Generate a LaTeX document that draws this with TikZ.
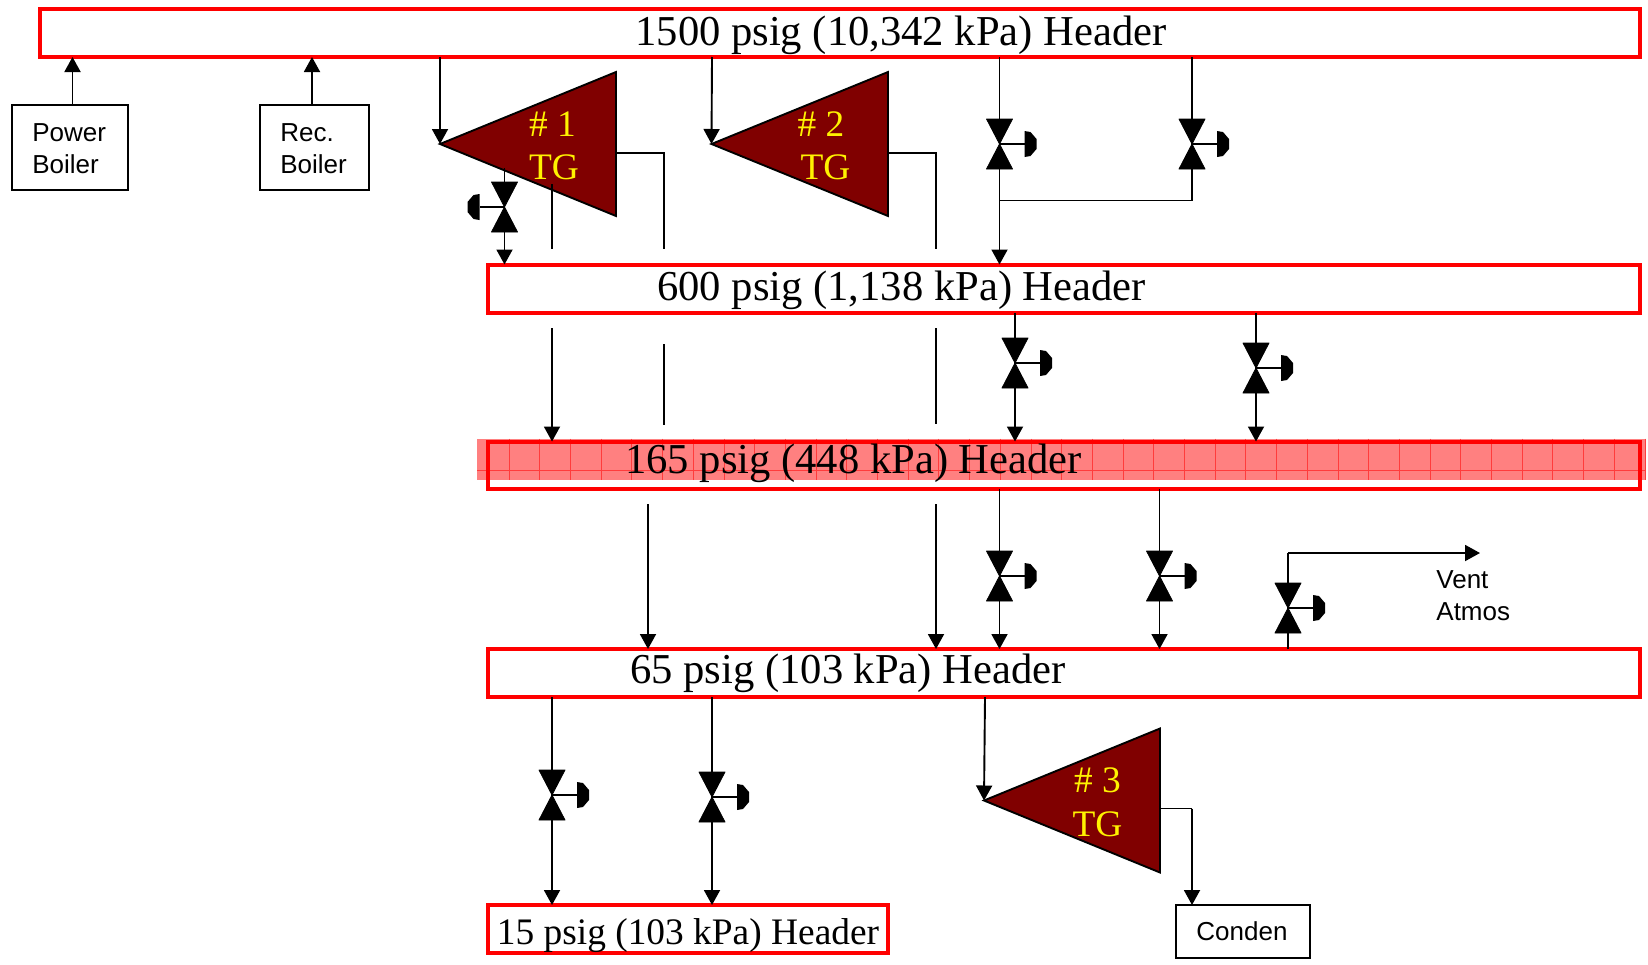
\documentclass[tikz,border=0pt]{standalone}
\usepackage{fontspec}
\setmainfont{Liberation Serif}
\newfontfamily\arialf{Liberation Sans}
\usetikzlibrary{arrows.meta}
\definecolor{tgfill}{RGB}{128,0,0}
\definecolor{pinkband}{RGB}{255,128,128}
\definecolor{pinkgrid}{RGB}{255,60,60}
\tikzset{
  hdr/.style={draw=red,line width=2pt,fill=none,inner sep=0pt,outer sep=0pt},
  plainbox/.style={draw=black,line width=0.7pt,inner sep=0pt,outer sep=0pt},
  pipe/.style={draw=black,line width=0.95pt},
  arr/.style={pipe,-{Triangle[length=7.5pt,width=8pt]}},
  hdrtext/.style={font=\fontsize{21.3}{25}\selectfont,text=black,inner sep=0pt},
  smalltext/.style={font=\arialf\fontsize{13}{16}\selectfont,text=black,inner sep=0pt,anchor=west},
  tgtext/.style={font=\fontsize{18.7}{22}\selectfont,text=yellow,inner sep=0pt},
  turbine/.style={fill=tgfill,draw=black,line width=0.95pt,line join=miter},
}
\newcommand{\valve}[4]{% name, x, y, side (+1 right, -1 left)
  \coordinate (#1) at (#2,#3);
  \begin{scope}[shift={(#1)},xscale=#4]
    \filldraw[black,line width=0.4pt,line join=round] (-13,-25) -- (13,-25) -- (0,0) -- (13,25) -- (-13,25) -- (0,0) -- cycle;
    \draw[pipe] (0,0) -- (25,0);
    \fill[black] (25,-13) -- (31,-12) -- (37,-5) -- (37,5) -- (31,12) -- (25,13) -- cycle;
  \end{scope}
}
\newcommand{\turb}[5]{% name, tip x, tip y, right x, half height
  \coordinate (#1) at (#2,#3);
  \draw[turbine] (#2,#3) -- (#4,#3-#5) -- (#4,#3+#5) -- cycle;
}
\begin{document}
\begin{tikzpicture}[x=0.5pt,y=-0.5pt]
\useasboundingbox (0,0) rectangle (1648,964);
% pink band
\fill[pinkband] (477,438.5) rectangle (1646,480);
\foreach \i in {0,...,37} {\draw[pinkgrid,line width=0.35pt] ({509+30.7*\i},438.5) -- ({509+30.7*\i},480);}
\draw[pinkgrid,line width=0.35pt] (477,470) -- (1646,470);
% headers
\node[hdr,minimum width=800pt,minimum height=24pt] (h1) at (840,33) {};
\node[hdr,minimum width=576pt,minimum height=24pt] (h2) at (1064,288.5) {};
\node[hdr,minimum width=576pt,minimum height=23.5pt] (h3) at (1064,465) {};
\node[hdr,minimum width=576pt,minimum height=24pt] (h4) at (1064,673) {};
\node[hdr,minimum width=200pt,minimum height=24pt] (h5) at (688,929) {};
\node[hdrtext] (th1) at (901,35) {1500 psig (10,342 kPa) Header};
\node[hdrtext] (th2) at (901.5,290) {600 psig (1,138 kPa) Header};
\node[hdrtext] (th3) at (853.5,463) {165 psig (448 kPa) Header};
\node[hdrtext] (th4) at (848,673) {65 psig (103 kPa) Header};
\node[hdrtext,font=\fontsize{18.7}{21}\selectfont] (th5) at (688,936) {15 psig (103 kPa) Header};
% boxes
\node[plainbox,minimum width=58pt,minimum height=42.5pt] (pb) at (70,147.5) {};
\node[plainbox,minimum width=54.5pt,minimum height=42.5pt] (rb) at (314.5,147.5) {};
\node[plainbox,minimum width=67pt,minimum height=26.5pt] (cd) at (1243,931.5) {};
\node[smalltext] (tpb) at (32,132.5) {Power};
\node[smalltext] (tpb2) at (32,164.5) {Boiler};
\node[smalltext] (trb) at (280,132.5) {Rec.};
\node[smalltext] (trb2) at (280,164.5) {Boiler};
\node[smalltext] (tcd) at (1196,931.5) {Conden};
\node[smalltext] (tv) at (1436,580) {Vent};
\node[smalltext] (ta) at (1436,612) {Atmos};
% boiler feeds
\draw[arr] (pb.north -| 72.5,0) -- (h1.south -| 72.5,0);
\draw[arr] (rb.north -| 312,0) -- (h1.south -| 312,0);
% turbines
\turb{t1}{440}{144}{616}{72}
\turb{t2}{711.5}{144}{888}{72}
\turb{t3}{984}{800.5}{1160}{72}
\node[tgtext] (n1) at (552.5,124) {\# 1};
\node[tgtext] (g1) at (554,167.5) {TG};
\node[tgtext] (n2) at (821,124) {\# 2};
\node[tgtext] (g2) at (825.5,167.5) {TG};
\node[tgtext] (n3) at (1097.5,780) {\# 3};
\node[tgtext] (g3) at (1097.5,824) {TG};
% valves
\valve{va}{504.5}{207}{-1}
\valve{vb}{999.5}{144}{1}
\valve{vc}{1192}{144}{1}
\valve{vd}{1015}{363}{1}
\valve{ve}{1256}{368}{1}
\valve{vf}{999.5}{576}{1}
\valve{vg}{1159.5}{576}{1}
\valve{vh}{1288}{608}{1}
\valve{vi}{552}{795}{1}
\valve{vj}{712}{797}{1}
% free ends
\coordinate (a1) at (552,184); \coordinate (a2) at (552,249); \coordinate (a3) at (552,328);
\coordinate (b0) at (616,153); \coordinate (b1) at (664,153); \coordinate (b2) at (664,249);
\coordinate (b3) at (664,344); \coordinate (b4) at (664,425);
\coordinate (b5) at (648,504);
\coordinate (c0) at (888,153); \coordinate (c1) at (936,153); \coordinate (c2) at (936,249);
\coordinate (c3) at (936,328); \coordinate (c4) at (936,424); \coordinate (c5) at (936,504);
\coordinate (vt) at (1288,553); \coordinate (vx) at (1480,553);
\coordinate (vs) at (504.5,168);
\coordinate (t2s) at (712,32); \coordinate (t3s) at (985,673);
\coordinate (t3o) at (1160,808.5); \coordinate (t3c) at (1192,808.5);
% lines
\draw[arr] (h1.south -| t1) -- (t1);
\draw[arr] (h1.south -| t2s) -- (t2);
\draw[pipe] (a1) -- (a2);
\draw[arr] (a3) -- (h3.north -| a3);
\draw[pipe] (b0) -- (b1) -- (b2);
\draw[pipe] (b3) -- (b4);
\draw[arr] (b5) -- (h4.north -| b5);
\draw[pipe] (c0) -- (c1) -- (c2);
\draw[pipe] (c3) -- (c4);
\draw[arr] (c5) -- (h4.north -| c5);
\draw[arr] (vs) -- (h2.north -| vs);
\draw[arr] (h1.south -| vb) -- (h2.north -| vb);
\draw[pipe] (h1.south -| vc) -- (vc) -- (1192,200.5) -- (999.5,200.5);
\draw[arr] (h2.south -| vd) -- (h3.north -| vd);
\draw[arr] (h2.south -| ve) -- (h3.north -| ve);
\draw[arr] (h3.south -| vf) -- (h4.north -| vf);
\draw[arr] (h3.south -| vg) -- (h4.north -| vg);
\draw[pipe] (h4.north -| vh) -- (vt);
\draw[arr] (vt) -- (vx);
\draw[arr] (h4.south -| vi) -- (h5.north -| vi);
\draw[arr] (h4.south -| vj) -- (h5.north -| vj);
\draw[arr] (h4.south -| t3s) -- (t3);
\draw[pipe] (t3o) -- (t3c);
\draw[arr] (t3c) -- (cd.north -| t3c);
\end{tikzpicture}
\end{document}
